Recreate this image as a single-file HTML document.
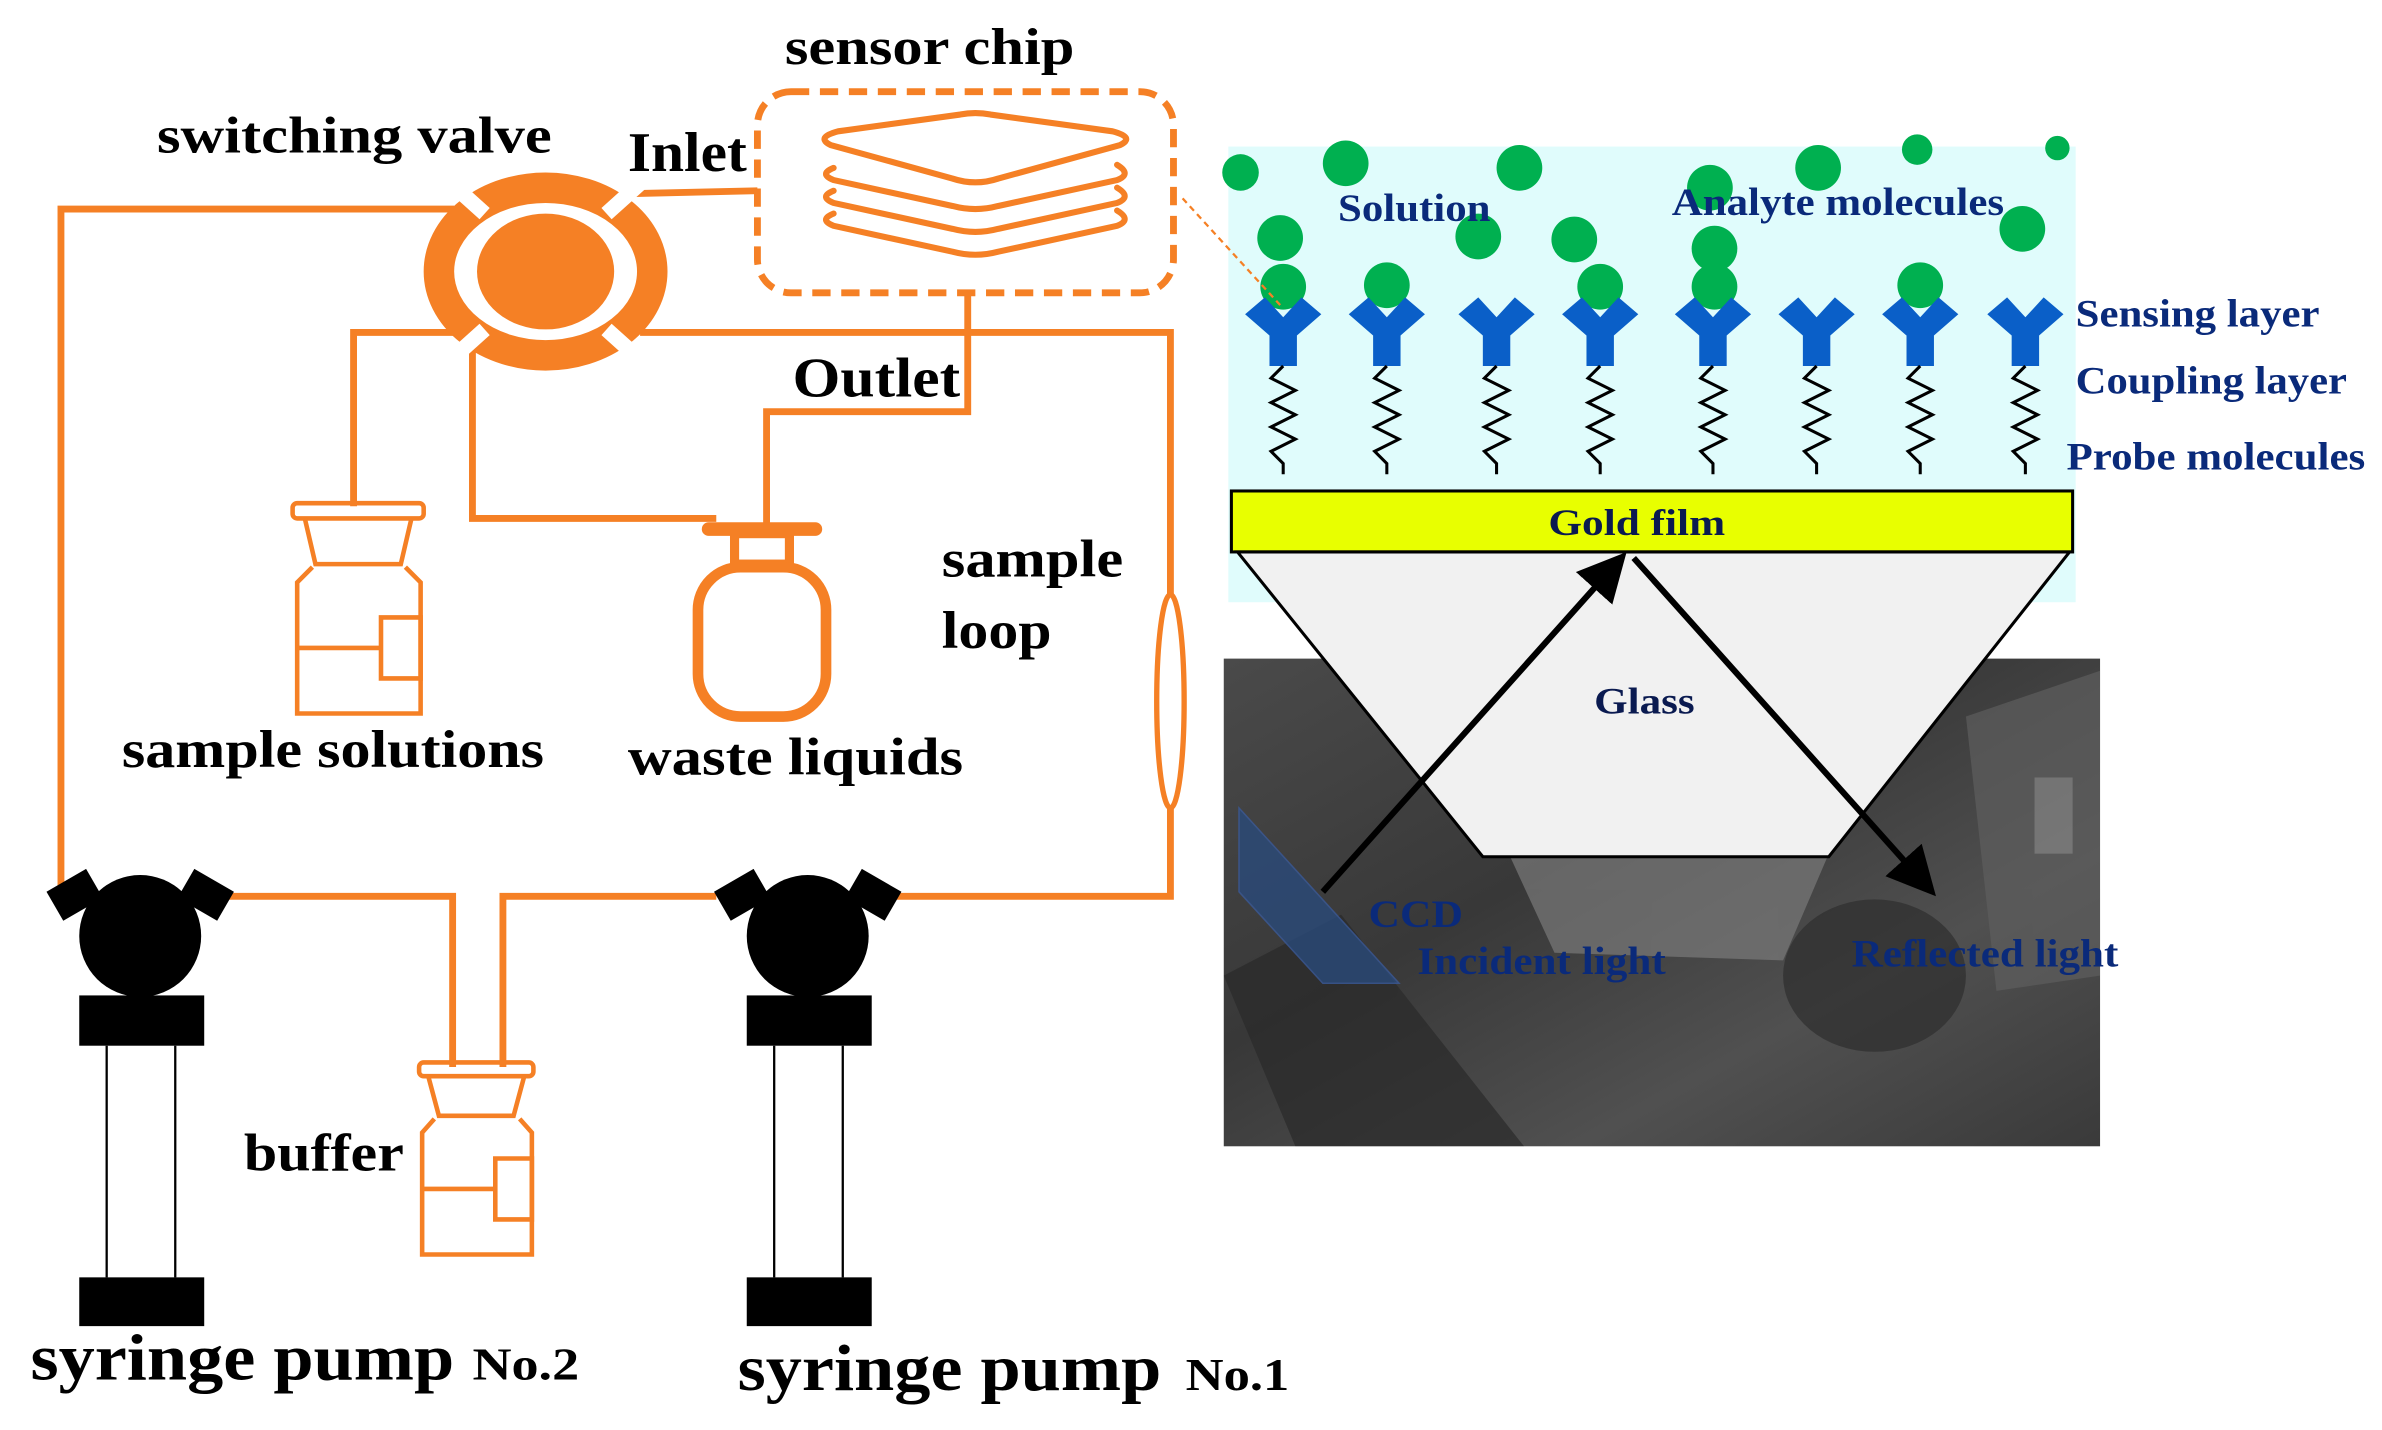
<!DOCTYPE html>
<html><head><meta charset="utf-8"><style>
html,body{margin:0;padding:0;background:#fff}
svg{display:block}
text{font-family:"Liberation Serif",serif;font-weight:bold}
</style></head><body>
<svg width="2382" height="1430" viewBox="0 0 1563 938" xmlns="http://www.w3.org/2000/svg">
<defs>
<linearGradient id="ph" x1="0" y1="0" x2="1" y2="1">
<stop offset="0" stop-color="#4a4a4a"/><stop offset="0.4" stop-color="#383838"/><stop offset="0.7" stop-color="#505050"/><stop offset="1" stop-color="#3a3a3a"/>
</linearGradient>
<marker id="ah" markerWidth="8" markerHeight="8" refX="6" refY="4" orient="auto" markerUnits="strokeWidth"><path d="M0,0 L8,4 L0,8 z" fill="#000"/></marker>
<clipPath id="pc"><rect x="803" y="432" width="575" height="320"/></clipPath>
</defs>
<!-- photo -->
<rect x="803" y="432" width="575" height="320" fill="url(#ph)"/>
<g clip-path="url(#pc)" opacity="0.7">
<path d="M803,640 L880,600 L1000,752 L850,752 Z" fill="#2a2a2a"/>
<path d="M1290,470 L1378,440 L1378,640 L1310,650 Z" fill="#5e5e5e"/>
<rect x="1335" y="510" width="25" height="50" fill="#888"/>
<path d="M990,560 L1200,560 L1170,630 L1020,625 Z" fill="#7a7a7a"/>
<ellipse cx="1230" cy="640" rx="60" ry="50" fill="#2e2e2e"/>
</g>
<!-- solution bg -->
<rect x="806" y="96" width="556" height="299" fill="#e0fcfc"/>
<g fill="#00b050">
<circle cx="814" cy="113" r="12"/><circle cx="883" cy="107" r="15"/><circle cx="997" cy="110" r="15"/><circle cx="1122" cy="123" r="15"/><circle cx="1193" cy="110" r="15"/><circle cx="1258" cy="98" r="10"/><circle cx="1350" cy="97" r="8"/>
<circle cx="840" cy="156" r="15"/><circle cx="970" cy="155" r="15"/><circle cx="1033" cy="157" r="15"/><circle cx="1125" cy="163" r="15"/><circle cx="1327" cy="150" r="15"/>
<circle cx="842" cy="188" r="15"/><circle cx="910" cy="187" r="15"/><circle cx="1050" cy="188" r="15"/><circle cx="1125" cy="188" r="15"/><circle cx="1260" cy="187" r="15"/>
</g>
<g id="ab">
<path d="M817,206 L830,195 L842,208 L854,195 L867,206 L851,220 L851,240 L833,240 L833,220 Z" fill="#0a5fc8"/>
<path d="M842,240 l-8,8 l16,8 l-16,8 l16,8 l-16,8 l16,8 l-16,8 l8,8 l0,7" fill="none" stroke="#000" stroke-width="2"/>
</g>
<use href="#ab" x="68"/><use href="#ab" x="140"/><use href="#ab" x="208"/><use href="#ab" x="282"/><use href="#ab" x="350"/><use href="#ab" x="418"/><use href="#ab" x="487"/>
<rect x="808" y="322" width="552" height="40" fill="#e8ff00" stroke="#000" stroke-width="2"/>
<path d="M812,362 L1358,362 L1200,562 L973,562 Z" fill="#f1f1f1" stroke="#000" stroke-width="2"/>
<text x="1016" y="351" font-size="24" fill="#0a1a50" textLength="116" lengthAdjust="spacingAndGlyphs">Gold film</text>
<text x="1046" y="468" font-size="24" fill="#0a1a50" textLength="66" lengthAdjust="spacingAndGlyphs">Glass</text>
<path d="M813,530 L918,645 L868,645 L813,585 Z" fill="#2a4a7a" opacity="0.8" stroke="#3a5a9a"/>
<line x1="868" y1="585" x2="1062" y2="368" stroke="#000" stroke-width="4" marker-end="url(#ah)"/>
<line x1="1072" y1="366" x2="1265" y2="582" stroke="#000" stroke-width="4" marker-end="url(#ah)"/>
<g fill="#0a2a7a" font-size="26" lengthAdjust="spacingAndGlyphs">
<text x="878" y="145" textLength="100" lengthAdjust="spacingAndGlyphs">Solution</text>
<text x="1097" y="141" textLength="218" lengthAdjust="spacingAndGlyphs">Analyte molecules</text>
<text x="1362" y="214" textLength="160" lengthAdjust="spacingAndGlyphs">Sensing layer</text>
<text x="1362" y="258" textLength="178" lengthAdjust="spacingAndGlyphs">Coupling layer</text>
<text x="1356" y="308" textLength="196" lengthAdjust="spacingAndGlyphs">Probe molecules</text>
<text x="898" y="608" textLength="62" lengthAdjust="spacingAndGlyphs">CCD</text>
<text x="930" y="639" textLength="163" lengthAdjust="spacingAndGlyphs">Incident light</text>
<text x="1215" y="634" textLength="175" lengthAdjust="spacingAndGlyphs">Reflected light</text>
</g>
<line x1="776" y1="130" x2="840" y2="200" stroke="#f58025" stroke-width="1.5" stroke-dasharray="4,3"/>
<g stroke="#f58025" stroke-width="4.5" fill="none">
<path d="M298,137 L40,137 L40,585"/>
<path d="M410,127 L497,125"/>
<rect x="497" y="60" width="273" height="132" rx="22" stroke-dasharray="12,7" stroke-width="4.5"/>
<path d="M635,192 L635,270 L503,270 L503,345"/>
<path d="M298,218 L232,218 L232,332"/>
<path d="M310,225 L310,340 L470,340"/>
<path d="M420,218 L768,218 L768,390"/>
<ellipse cx="768" cy="460" rx="9" ry="70" stroke-width="3.5"/>
<path d="M768,530 L768,588 L580,588"/>
<path d="M150,588 L297,588 L297,700"/>
<path d="M330,700 L330,588 L470,588"/>
<g stroke-width="4" stroke-linejoin="round" stroke-linecap="round">
<path d="M545,95 Q535,90 550,86 L630,75 Q640,73 650,75 L730,86 Q745,90 735,95 L655,117 Q640,122 625,117 Z"/>
<path d="M547,110 Q537,114 547,118 L625,135 Q640,139 655,135 L733,118 Q743,114 733,108"/>
<path d="M547,125 Q537,129 547,133 L625,150 Q640,154 655,150 L733,133 Q743,129 733,123"/>
<path d="M547,140 Q537,144 547,148 L625,165 Q640,169 655,165 L733,148 Q743,144 733,138"/>
</g>
</g>
<ellipse cx="358" cy="178" rx="70" ry="55" fill="none" stroke="#f58025" stroke-width="20"/>
<ellipse cx="358" cy="178" rx="45" ry="38" fill="#f58025"/>
<g stroke="#fff" stroke-width="10">
<line x1="288" y1="113" x2="318" y2="140"/><line x1="428" y1="113" x2="398" y2="140"/>
<line x1="288" y1="243" x2="318" y2="216"/><line x1="428" y1="243" x2="398" y2="216"/>
</g>
<g stroke="#f58025" stroke-width="3" fill="none">
<rect x="192" y="330" width="86" height="10" rx="3"/>
<path d="M200,340 L207,370 L263,370 L270,340"/>
<path d="M205,372 L195,382 L195,468 L276,468 L276,382 L266,372"/>
<path d="M195,425 L250,425 M250,405 L276,405 L276,445 L250,445 Z"/>
</g>
<g stroke="#f58025" stroke-width="3" fill="none">
<rect x="275" y="697" width="75" height="9" rx="3"/>
<path d="M281,706 L288,732 L337,732 L344,706"/>
<path d="M285,734 L277,743 L277,823 L349,823 L349,743 L341,734"/>
<path d="M277,780 L325,780 M325,760 L349,760 L349,800 L325,800 Z"/>
</g>
<g stroke="#f58025" fill="none">
<line x1="465" y1="347" x2="535" y2="347" stroke-width="9" stroke-linecap="round"/>
<rect x="482" y="350" width="36" height="20" stroke-width="6"/>
<rect x="458" y="372" width="84" height="98" rx="28" stroke-width="7"/>
</g>
<g id="pump">
<rect x="34" y="576" width="30" height="22" fill="#000" transform="rotate(-30 49 587)"/>
<rect x="120" y="576" width="30" height="22" fill="#000" transform="rotate(30 135 587)"/>
<circle cx="92" cy="614" r="40" fill="#000"/>
<rect x="52" y="653" width="82" height="33" fill="#000"/>
<line x1="70" y1="686" x2="70" y2="838" stroke="#000" stroke-width="1.5"/>
<line x1="115" y1="686" x2="115" y2="838" stroke="#000" stroke-width="1.5"/>
<rect x="52" y="838" width="82" height="32" fill="#000"/>
</g>
<use href="#pump" x="438"/>
<g fill="#000">
<text x="515" y="42" font-size="34" textLength="190" lengthAdjust="spacingAndGlyphs">sensor chip</text>
<text x="103" y="100" font-size="34" textLength="259" lengthAdjust="spacingAndGlyphs">switching valve</text>
<text x="412" y="112" font-size="37" textLength="78" lengthAdjust="spacingAndGlyphs">Inlet</text>
<text x="520" y="260" font-size="37" textLength="110" lengthAdjust="spacingAndGlyphs">Outlet</text>
<text x="618" y="378" font-size="35" textLength="119" lengthAdjust="spacingAndGlyphs">sample</text>
<text x="618" y="425" font-size="35" textLength="72" lengthAdjust="spacingAndGlyphs">loop</text>
<text x="80" y="503" font-size="35" textLength="277" lengthAdjust="spacingAndGlyphs">sample solutions</text>
<text x="412" y="508" font-size="35" textLength="220" lengthAdjust="spacingAndGlyphs">waste liquids</text>
<text x="160" y="768" font-size="35" textLength="105" lengthAdjust="spacingAndGlyphs">buffer</text>
<text x="20" y="905" font-size="43" textLength="278" lengthAdjust="spacingAndGlyphs">syringe pump</text>
<text x="310" y="905" font-size="30" textLength="70" lengthAdjust="spacingAndGlyphs">No.2</text>
<text x="484" y="912" font-size="43" textLength="278" lengthAdjust="spacingAndGlyphs">syringe pump</text>
<text x="778" y="912" font-size="30" textLength="68" lengthAdjust="spacingAndGlyphs">No.1</text>
</g>
</svg>
</body></html>
